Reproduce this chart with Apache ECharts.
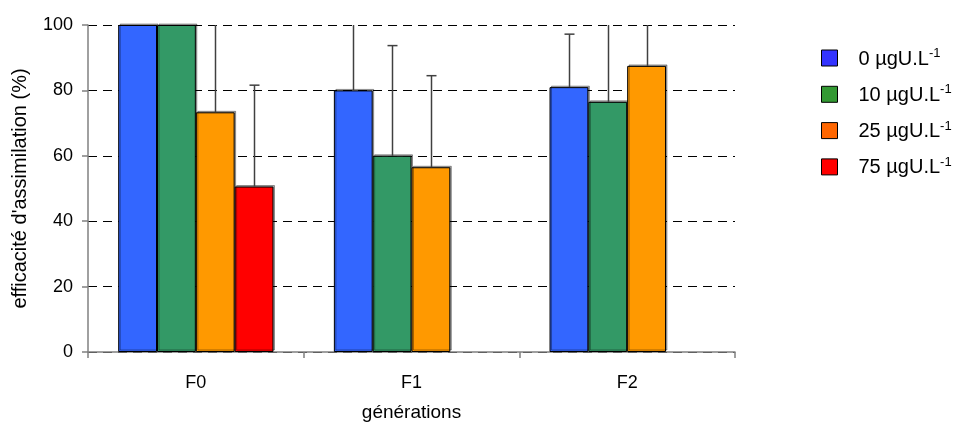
<!DOCTYPE html>
<html>
<head>
<meta charset="utf-8">
<script src="https://cdn.jsdelivr.net/npm/echarts@6/dist/echarts.min.js"></script>
<style>
  html, body { margin: 0; padding: 0; background: #fff; }
  #chart { width: 968px; height: 425px; }
</style>
</head>
<body>
<div id="chart"></div>
<script>
// Generations on the x axis
const generations = ['F0', 'F1', 'F2'];

// Uranium concentrations (series names)
const doses = ['0', '10', '25', '75'];

// Mean assimilation efficiency (%) per dose, one value per generation
const eff0  = [100, 80.0, 81.0];
const eff10 = [100, 60.0, 76.5];
const eff25 = [73.3, 56.5, 87.5];
const eff75 = [50.6, null, null];

// Upper end of the error bars (mean + SD); values above 100 run off the plot
const top0  = [100, 104, 97.2];
const top10 = [100, 93.7, 103];
const top25 = [102, 84.5, 105];
const top75 = [81.6, null, null];

const barColors    = ['#3366FF', '#339966', '#FF9900', '#FF0000'];
const legendColors = ['#3333FF', '#339933', '#FF6600', '#FF0000'];

const means = [eff0, eff10, eff25, eff75];
const tops  = [top0, top10, top25, top75];

const BAR_FRACTION = 0.18;   // bar width as a share of the category band
const FONT = 'Liberation Sans, Arial, sans-serif';

const seriesName = d => d + ' µgU.L-1';

const series = [];
means.forEach((vals, i) => {
  series.push({
    name: seriesName(doses[i]),
    type: 'bar',
    data: vals,
    barWidth: (BAR_FRACTION * 100) + '%',
    barGap: '0%',
    itemStyle: {
      color: barColors[i],
      borderColor: '#000',
      borderWidth: 1,
      shadowColor: 'rgba(0,0,0,0.35)',
      shadowOffsetX: 1.5,
      shadowOffsetY: -1.5
    },
    emphasis: { disabled: true },
    z: 2
  });
});

// Error bars: one line upward from each bar top, with a small cap
means.forEach((vals, i) => {
  const data = [];
  vals.forEach((v, c) => {
    if (v != null && tops[i][c] != null && tops[i][c] > v) data.push([c, v, tops[i][c]]);
  });
  series.push({
    type: 'custom',
    name: 'err' + i,
    clip: true,
    z: 5,
    silent: true,
    encode: { x: 0, y: [1, 2] },
    data: data,
    renderItem: (params, api) => {
      const c = api.value(0);
      const band = api.size([1, 0])[0];
      const bw = band * BAR_FRACTION;
      const off = (i - 1.5) * bw;
      const p0 = api.coord([c, api.value(1)]);
      const p1 = api.coord([c, api.value(2)]);
      const x = Math.round(p0[0] + off) + 0.5;
      const style = { stroke: '#404040', lineWidth: 1.5 };
      return {
        type: 'group',
        children: [
          { type: 'line', shape: { x1: x, y1: p0[1], x2: x, y2: p1[1] }, style: style },
          { type: 'line', shape: { x1: x - 5, y1: p1[1], x2: x + 5, y2: p1[1] }, style: style }
        ]
      };
    }
  });
});

const chart = echarts.init(document.getElementById('chart'), null, { renderer: 'canvas' });

chart.setOption({
  animation: false,
  backgroundColor: '#ffffff',
  textStyle: { fontFamily: FONT, color: '#000' },
  grid: { left: 88, right: 233, top: 25, bottom: 73, containLabel: false, outerBoundsMode: 'none' },
  legend: {
    orient: 'vertical',
    left: 816,
    top: 42,
    icon: 'rect',
    itemWidth: 16,
    itemHeight: 16,
    itemGap: 14.3,
    selectedMode: false,
    data: doses.map((d, i) => ({
      name: seriesName(d),
      itemStyle: { color: legendColors[i], borderColor: '#000', borderWidth: 1 }
    })),
    formatter: name => {
      const base = name.replace('-1', '');
      return '{t|' + base + '}{s|-1}';
    },
    textStyle: {
      padding: [0, 0, 0, 16],
      rich: {
        t: { fontFamily: FONT, fontSize: 20, color: '#000', verticalAlign: 'bottom', lineHeight: 22 },
        s: { fontFamily: FONT, fontSize: 13, color: '#000', verticalAlign: 'top', lineHeight: 22, padding: [0, 0, 9, 0] }
      }
    }
  },
  xAxis: {
    type: 'category',
    data: generations,
    name: 'générations',
    nameLocation: 'middle',
    nameGap: 51,
    nameTextStyle: { fontFamily: FONT, fontSize: 19, color: '#000' },
    axisLine: { lineStyle: { color: '#808080', width: 1.5 } },
    axisTick: { show: true, length: 6, alignWithLabel: false, lineStyle: { color: '#808080', width: 1.5 } },
    axisLabel: { fontFamily: FONT, fontSize: 18, color: '#000', margin: 22 },
    splitLine: { show: false }
  },
  yAxis: {
    type: 'value',
    min: 0,
    max: 100,
    interval: 20,
    name: "efficacité d'assimilation (%)",
    nameLocation: 'middle',
    nameGap: 58,
    nameTextStyle: { fontFamily: FONT, fontSize: 20, color: '#000' },
    axisLine: { show: true, lineStyle: { color: '#808080', width: 1.5 } },
    axisTick: { show: true, length: 6, lineStyle: { color: '#808080', width: 1.5 } },
    axisLabel: { fontFamily: FONT, fontSize: 18, color: '#000', margin: 15 },
    splitLine: { show: true, lineStyle: { color: '#000', type: [9, 6], width: 1 } }
  },
  series: series
});
</script>
</body>
</html>
